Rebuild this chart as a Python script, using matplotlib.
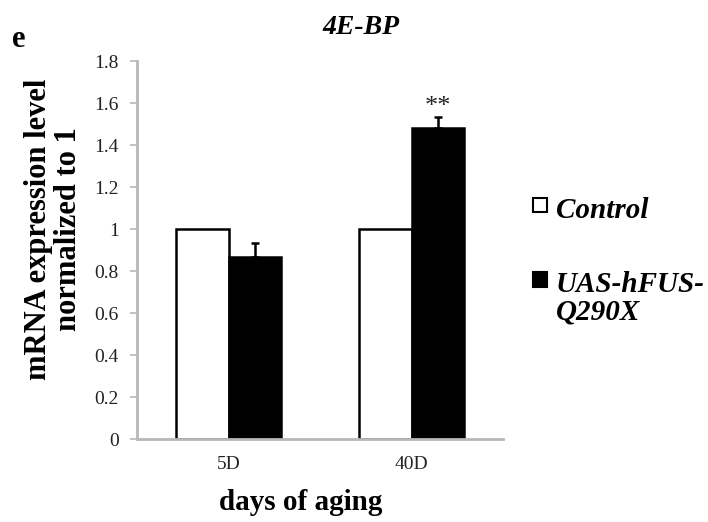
import numpy as np
import matplotlib.pyplot as plt
from matplotlib.patches import Rectangle

plt.rcParams['font.family'] = ['Liberation Serif', 'DejaVu Serif']

# qPCR results for 4E-BP, normalised to control
days = ['5D', '40D']
control = [1.0, 1.0]
mutant = [0.867, 1.48]
mutant_err = [0.066, 0.055]
stars = ['', '**']
legend_labels = ['Control', 'UAS-hFUS-\nQ290X']

fig = plt.figure(figsize=(7.08, 5.22), dpi=100)
ax = fig.add_axes([0.1935, 0.159, 0.517, 0.724])

x = np.arange(len(days))
w = 0.285
ax.bar(x - w / 2, control, w, color='white', edgecolor='black', linewidth=1.8)
ax.bar(x + w / 2, mutant, w, color='black', edgecolor='black', linewidth=1.8)
ax.errorbar(x + w / 2, mutant, yerr=[np.zeros(len(x)), mutant_err], fmt='none',
            ecolor='black', elinewidth=1.8, capsize=3, capthick=1.8)
for xi, m, e, s in zip(x, mutant, mutant_err, stars):
    if s:
        ax.text(xi + w / 2, m + e + 0.045, s, ha='center', va='center',
                fontsize=19, color='#222222')

ax.set_xlim(-0.5, 1.5)
ax.set_ylim(0, 1.8)
ax.set_yticks(np.arange(0, 1.81, 0.2))
ax.set_yticklabels(['0', '0.2', '0.4', '0.6', '0.8', '1', '1.2', '1.4', '1.6', '1.8'])
ax.set_xticks(x)
ax.set_xticklabels(days)
ax.tick_params(axis='y', length=5, width=1.2, color='#b8b8b8', labelsize=14, pad=8,
               labelcolor='#222222')
ax.tick_params(axis='x', length=0, labelsize=14, pad=12, labelcolor='#222222')
for side in ['top', 'right']:
    ax.spines[side].set_visible(False)
for side in ['left', 'bottom']:
    ax.spines[side].set_color('#b8b8b8')
    ax.spines[side].set_linewidth(2)

fig.text(0.075, 0.561, 'mRNA expression level\nnormalized to 1', rotation=90,
         ha='center', va='center', fontsize=22, fontweight='bold', linespacing=1.05)
fig.text(0.424, 0.038, 'days of aging', ha='center', va='center', fontsize=21,
         fontweight='bold')
fig.text(0.51, 0.948, '4E-BP', ha='center', va='center', fontsize=20,
         fontweight='bold', style='italic')
fig.text(0.017, 0.925, 'e', ha='left', va='center', fontsize=22, fontweight='bold')

# legend drawn by hand so the swatch sits on the first text line
legend_fills = ['white', 'black']
legend_y = [0.606, 0.464]
for fill, label, ly in zip(legend_fills, legend_labels, legend_y):
    fig.patches.append(Rectangle((0.753, ly - 0.013), 0.02, 0.027, facecolor=fill,
                                 edgecolor='black', linewidth=1.5,
                                 transform=fig.transFigure, figure=fig))
    fig.text(0.785, ly + 0.016, label, ha='left', va='top', fontsize=21,
             fontweight='bold', style='italic', linespacing=1.0)

fig.savefig('out.png', dpi=100)
